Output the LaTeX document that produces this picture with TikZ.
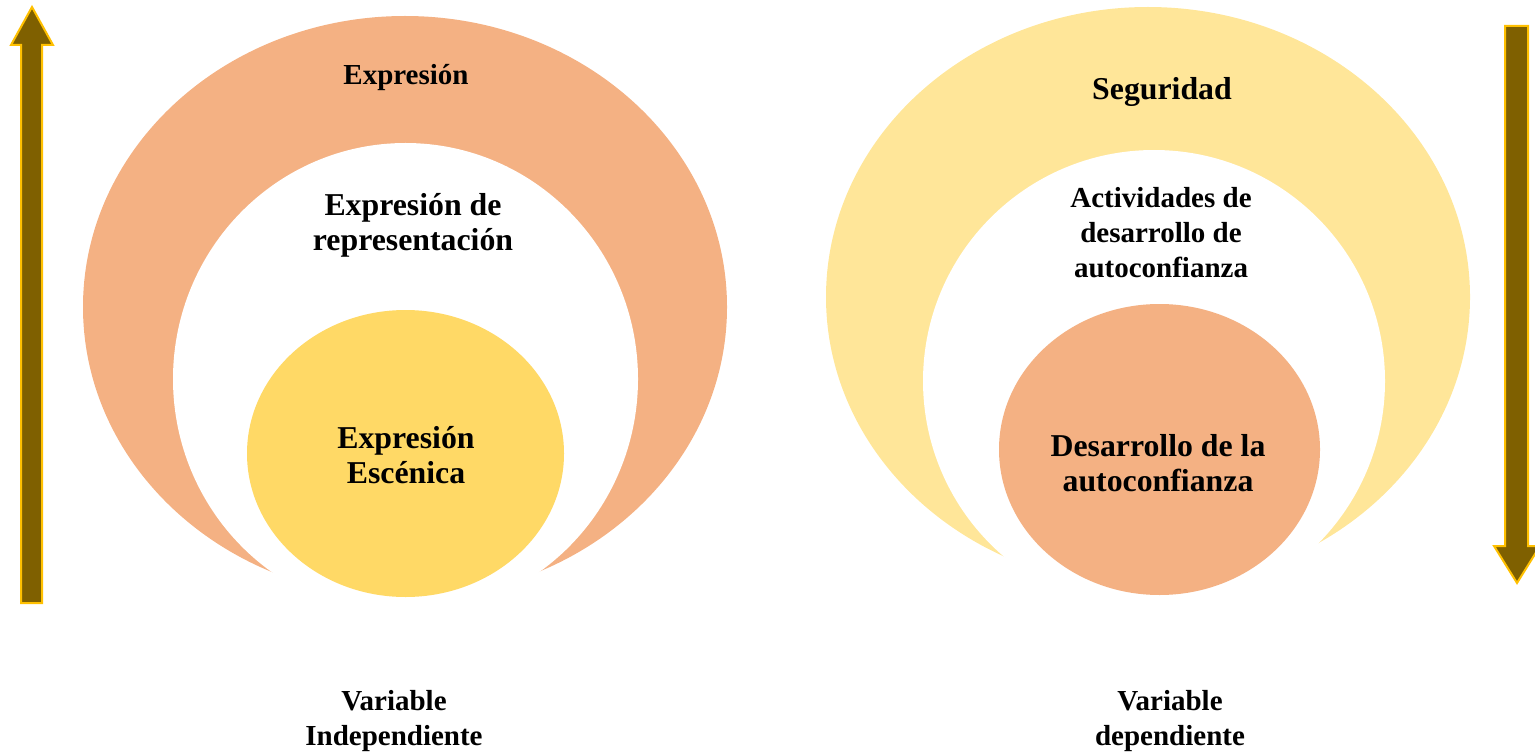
\documentclass[tikz,border=0pt]{standalone}
\usepackage{fontspec}
\setmainfont{Liberation Serif}
\definecolor{peach}{HTML}{F4B183}
\definecolor{paleyellow}{HTML}{FFE699}
\definecolor{sunyellow}{HTML}{FFD966}
\definecolor{olivebrown}{HTML}{7F6000}
\definecolor{goldedge}{HTML}{FFC000}

\begin{document}
\begin{tikzpicture}[x=0.5pt, y=-0.5pt,
  bigtext/.style={font=\bfseries\fontsize{15.9}{17.5}\selectfont, align=center, inner sep=0pt},
  smalltext/.style={font=\bfseries\fontsize{14.5}{17.5}\selectfont, align=center, inner sep=0pt},
  bararrow/.style={fill=olivebrown, draw=goldedge, line width=1pt, line join=miter}]
  \useasboundingbox (0,0) rectangle (1535,754);

  % Left crescent with the inner circle
  \fill[peach] (405,307) ellipse [x radius=322, y radius=291];
  \fill[white] (405.5,379) ellipse [x radius=232.5, y radius=236];
  \fill[sunyellow] (405.5,453.5) ellipse [x radius=158.5, y radius=143.5];

  % Right crescent with the inner circle
  \fill[paleyellow] (1148,297) ellipse [x radius=322, y radius=290];
  \fill[white] (1154,381) ellipse [x radius=231, y radius=231];
  \fill[peach] (1159.5,449.5) ellipse [x radius=160.5, y radius=145.5];

  % Up and down arrows
  \draw[bararrow] (21,603) -- (21,45) -- (11,45) -- (32,7) -- (53,45) -- (42,45) -- (42,603) -- cycle;
  \draw[bararrow] (1505,26) -- (1505,546) -- (1494,546) -- (1517,583) -- (1540,546) -- (1528,546) -- (1528,26) -- cycle;

  % Labels
  \node[smalltext] (expr) at (406,78) {Expresión};
  \node[bigtext] (repr) at (413,225) {Expresión de\\representación};
  \node[bigtext] (esc) at (406,455) {Expresión\\Escénica};
  \node[bigtext] (seg) at (1162,92) {Seguridad};
  \node[smalltext] (activ) at (1161,233) {Actividades de\\desarrollo de\\autoconfianza};
  \node[bigtext] (desar) at (1158,463) {Desarrollo de la\\autoconfianza};
  \node[smalltext] (indep) at (394,721) {Variable\\Independiente};
  \node[smalltext] (dep) at (1170,721) {Variable\\dependiente};
\end{tikzpicture}
\end{document}
